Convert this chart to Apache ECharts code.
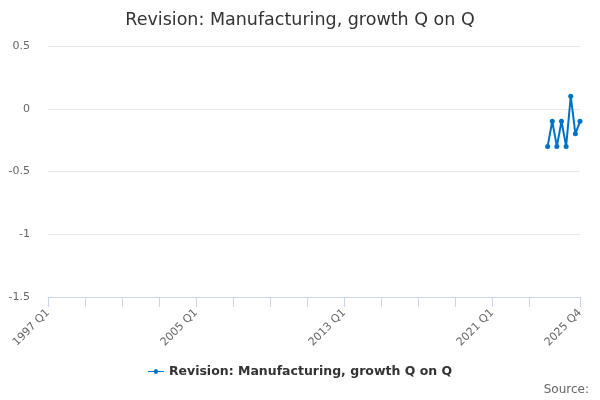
<!DOCTYPE html>
<html>
<head>
<meta charset="utf-8">
<script src="https://cdn.jsdelivr.net/npm/echarts@6/dist/echarts.min.js"></script>
<style>html,body{margin:0;padding:0;background:#fff}#c{width:600px;height:400px}</style>
</head>
<body>
<div id="c"></div>
<script>
var startYear = 1997, endYear = 2025;
var quarters = ['Q1','Q2','Q3','Q4'];
var seriesName = 'Revision: Manufacturing, growth Q on Q';
var valuePeriods = ['2024 Q1','2024 Q2','2024 Q3','2024 Q4','2025 Q1','2025 Q2','2025 Q3','2025 Q4'];
var values = [-0.3, -0.1, -0.3, -0.1, -0.3, 0.1, -0.2, -0.1];
var yTicks = [-1.5, -1, -0.5, 0, 0.5];

var categories = [];
for (var y = startYear; y <= endYear; y++) {
  for (var q = 0; q < 4; q++) categories.push(y + ' ' + quarters[q]);
}
var lastIdx = categories.length - 1;
var seriesData = categories.map(function (c) {
  var k = valuePeriods.indexOf(c);
  return k >= 0 ? values[k] : null;
});

var chart = echarts.init(document.getElementById('c'));
chart.setOption({
  animation: false,
  textStyle: { fontFamily: 'DejaVu Sans' },
  title: {
    text: seriesName,
    left: 'center', top: 6,
    textStyle: { fontSize: 17.5, fontWeight: 'normal', color: '#333', fontFamily: 'DejaVu Sans' }
  },
  graphic: [{
    type: 'text', right: 11, top: 384,
    style: { text: 'Source:', fontSize: 12, fill: '#666', fontFamily: 'DejaVu Sans' }
  }],
  legend: {
    bottom: 17, left: 'center',
    itemWidth: 16, itemHeight: 8, itemGap: 5,
    icon: 'path://M0,3.5L6,3.5A2,2 0 1 1 10,3.5L16,3.5L16,4.5L10,4.5A2,2 0 1 1 6,4.5L0,4.5Z',
    textStyle: { fontSize: 12.5, fontWeight: 'bold', color: '#333', fontFamily: 'DejaVu Sans' },
    data: [seriesName]
  },
  grid: { left: 48, right: 20, top: 46, bottom: 103 },
  xAxis: {
    type: 'category', data: categories, boundaryGap: false,
    axisLine: { onZero: false, lineStyle: { color: '#ccd6eb' } },
    axisTick: {
      alignWithLabel: true, length: 10,
      interval: function (i) { return i % 8 === 0 && i <= 104 || i === lastIdx; },
      lineStyle: { color: '#ccd6eb' }
    },
    axisLabel: {
      rotate: 45, fontSize: 11, color: '#666', margin: 14,
      interval: function (i) { return i % 32 === 0 || i === lastIdx; }
    },
    splitLine: { show: false }
  },
  yAxis: {
    type: 'value', min: yTicks[0], max: yTicks[yTicks.length - 1], interval: 0.5,
    axisLine: { show: false }, axisTick: { show: false },
    axisLabel: { fontSize: 11, color: '#666', margin: 18 },
    splitLine: { lineStyle: { color: '#e6e6e6' } }
  },
  series: [{
    name: seriesName, type: 'line', data: seriesData,
    connectNulls: false,
    color: '#0072c6',
    lineStyle: { width: 2 },
    symbol: 'circle', symbolSize: 5, showSymbol: true, showAllSymbol: true,
    itemStyle: { color: '#0072c6' }
  }]
});
</script>
</body>
</html>
